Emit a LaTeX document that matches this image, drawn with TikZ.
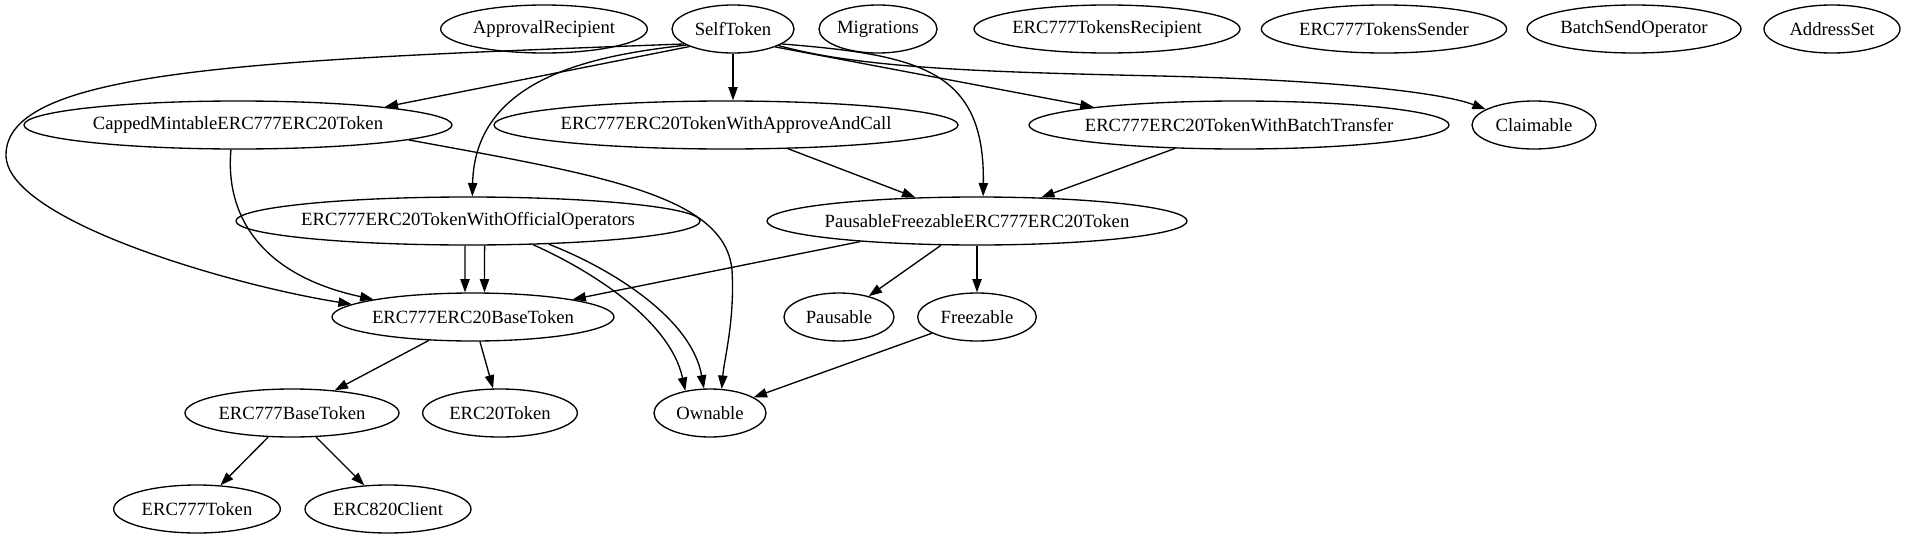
\documentclass[tikz,border=0pt]{standalone}
\usepackage{fontspec}
\setmainfont{Liberation Serif}
\usetikzlibrary{shapes.geometric,arrows.meta}
\newcommand\gvl[1]{\makebox[0pt]{#1}}
\begin{document}
\begin{tikzpicture}[x=0.75pt,y=-0.75pt,
  gv/.style={ellipse,draw,line width=1pt,inner sep=0pt,minimum height=36pt,font=\fontsize{14}{16}\selectfont},
  edge/.style={draw,line width=1pt,-{Triangle[length=10pt,width=7pt]}}]
\useasboundingbox (0,0) rectangle (1905,539);
% row 1
\node[gv,minimum width=155pt]   (AR) at (544,29)  {\gvl{ApprovalRecipient}};
\node[gv,minimum width=91.5pt]  (ST) at (733,29)  {\gvl{SelfToken}};
\node[gv,minimum width=88.5pt]  (MG) at (878,29)  {\gvl{Migrations}};
\node[gv,minimum width=199.5pt] (TR) at (1107,29) {\gvl{ERC777TokensRecipient}};
\node[gv,minimum width=184pt]   (TS) at (1384,29) {\gvl{ERC777TokensSender}};
\node[gv,minimum width=160.5pt] (BS) at (1634,29) {\gvl{BatchSendOperator}};
\node[gv,minimum width=102pt]   (AS) at (1832,29) {\gvl{AddressSet}};
% row 2
\node[gv,minimum width=321pt] (CM) at (238,125)  {\gvl{CappedMintableERC777ERC20Token}};
\node[gv,minimum width=348pt] (AC) at (726,125)  {\gvl{ERC777ERC20TokenWithApproveAndCall}};
\node[gv,minimum width=315pt] (BT) at (1239,125) {\gvl{ERC777ERC20TokenWithBatchTransfer}};
\node[gv,minimum width=93pt]  (CL) at (1534,125) {\gvl{Claimable}};
% row 3
\node[gv,minimum width=348pt] (OO) at (468,221) {\gvl{ERC777ERC20TokenWithOfficialOperators}};
\node[gv,minimum width=315pt] (PF) at (977,221) {\gvl{PausableFreezableERC777ERC20Token}};
% row 4
\node[gv,minimum width=211.5pt] (BA) at (473,317) {\gvl{ERC777ERC20BaseToken}};
\node[gv,minimum width=82.5pt]  (PA) at (839,317) {\gvl{Pausable}};
\node[gv,minimum width=89pt]    (FR) at (977,317) {\gvl{Freezable}};
% row 5
\node[gv,minimum width=160.5pt] (EB)  at (292,413) {\gvl{ERC777BaseToken}};
\node[gv,minimum width=116pt]   (E20) at (500,413) {\gvl{ERC20Token}};
\node[gv,minimum width=84pt]    (OW)  at (710,413) {\gvl{Ownable}};
% row 6
\node[gv,minimum width=125pt]   (E7) at (197,509) {\gvl{ERC777Token}};
\node[gv,minimum width=124.5pt] (E8) at (388,509) {\gvl{ERC820Client}};
% edges from SelfToken
\draw[edge] (ST.-158) -- (CM.7);
\draw[edge] (ST.-163) .. controls (250,60) and (6,70) .. (6,155)
                      .. controls (6,220) and (230,285) .. (BA.174);
\draw[edge] (ST.-161) .. controls (600,55) and (475,75) .. (OO.80);
\draw[edge] (ST) -- (ST |- AC.north);
\draw[edge] (ST.-23) -- (BT.173);
\draw[edge] (ST.-17) .. controls (920,55) and (985,70) .. (PF.76);
\draw[edge] (ST.-20) .. controls (860,68) and (980,72) .. (1160,76)
                     .. controls (1330,80) and (1440,92) .. (CL.162);
% CappedMintable
\draw[edge] (CM.-106) .. controls (225,215) and (260,275) .. (BA.170);
\draw[edge] (CM.-5) .. controls (600,175) and (725,195) .. (732,270)
                    .. controls (735,320) and (724,360) .. (OW.64);
% second level
\draw[edge] (AC) -- (PF);
\draw[edge] (BT) -- (PF);
\draw[edge] (OO.-97) -- (BA.108);
\draw[edge] (OO.-56) -- (BA.65);
\draw[edge] (OO.-20) .. controls (590,270) and (670,320) .. (OW.138);
\draw[edge] (OO.-16) .. controls (615,270) and (692,320) .. (OW.104);
\draw[edge] (PF.190) -- (BA.10);
\draw[edge] (PF.-146) -- (PA.35);
\draw[edge] (PF) -- (FR);
\draw[edge] (FR) -- (OW);
\draw[edge] (BA) -- (EB);
\draw[edge] (BA) -- (E20);
\draw[edge] (EB) -- (E7);
\draw[edge] (EB) -- (E8);
\end{tikzpicture}
\end{document}
